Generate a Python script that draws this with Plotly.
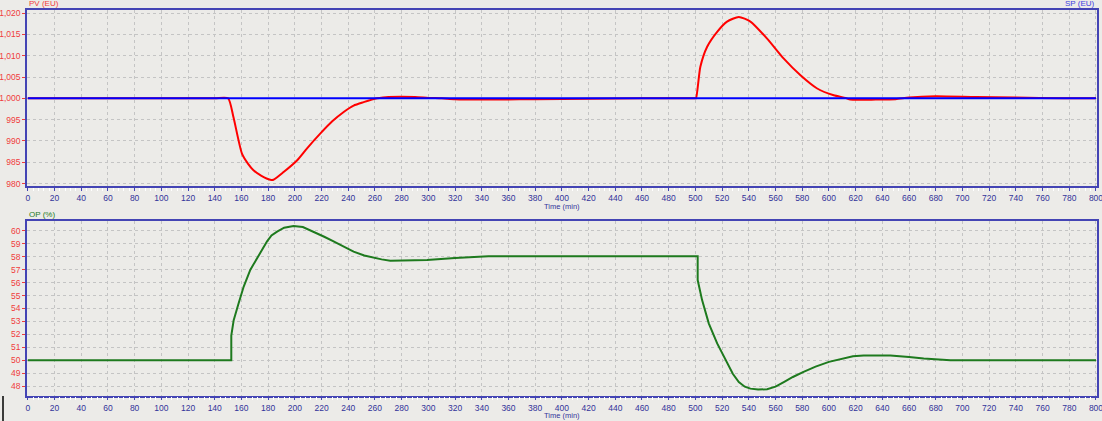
import plotly.graph_objects as go

pv_time = [0, 100, 140, 150, 154, 160.4, 165, 169, 175, 181.6, 184, 191.6, 201.6, 209, 219, 228, 236.6, 244,
           251.5, 261.6, 266, 270, 290, 300, 310, 320, 340, 355, 380, 420, 460,
           490, 500, 500.5, 503.7, 508.8, 516.3, 523.7, 532.5, 541.2, 553.7, 566.2, 578.7, 591.2, 603.6,
           612.4, 616, 635, 650, 660, 680, 710, 740, 776, 790, 800]
pv_values = [1000, 1000, 1000, 1000, 995.6, 987.0, 984.6, 983.1, 981.8, 980.9, 980.9, 982.7, 985.4, 988.2,
             991.7, 994.6, 996.8, 998.3, 999.1,
             1000.0, 1000.2, 1000.3, 1000.3, 1000.1, 1000.0, 999.8, 999.7, 999.7, 999.8, 999.9, 1000,
             1000, 1000, 1000, 1007.4, 1012.1, 1015.6, 1018.0, 1019.1, 1018.0, 1014.0, 1009.3, 1005.4,
             1002.3, 1000.7, 1000.1, 999.7, 999.7, 999.8, 1000.2, 1000.5, 1000.3, 1000.2, 1000.0, 1000.0,
             1000.0]

sp_time = [0, 800]
sp_values = [1000, 1000]

op_time = [0, 152.4, 152.4, 154.2, 157.9, 161.7, 166.7, 172.9, 179.2, 182.5, 186.7, 192, 199, 206, 214,
           222, 229, 237, 244, 252, 259, 265, 271.5, 285, 299, 320, 339, 345, 501.7, 501.7, 505, 510, 516.3,
           523.7, 528, 532.5, 537, 541.2, 547, 553.7, 560, 566.2, 573, 581, 590, 600, 609, 618, 626, 646,
           660, 671, 691, 800]
op_values = [50, 50, 51.9, 53.1, 54.4, 55.7, 57.0, 58.1, 59.2, 59.65, 59.95, 60.25, 60.39, 60.3, 59.95,
             59.55, 59.2, 58.8, 58.4, 58.1, 57.93, 57.8, 57.7, 57.7, 57.75, 57.9, 58.0, 58.05, 58.05, 56.2,
             54.65, 52.85, 51.3, 49.75, 48.95, 48.3, 47.95, 47.8, 47.73, 47.75, 47.95, 48.3, 48.7, 49.1,
             49.5, 49.87, 50.1, 50.3, 50.36, 50.36, 50.25, 50.13, 50.0, 50.0]

pv_ticks = [980, 985, 990, 995, 1000, 1005, 1010, 1015, 1020]
pv_tick_labels = ["980", "985", "990", "995", "1,000", "1,005", "1,010", "1,015", "1,020"]
op_ticks = list(range(48, 61))
time_ticks = list(range(0, 801, 20))

BG = "#ECEBE8"
AXIS_BLUE = "#4444B4"
LABEL_BLUE = "#33339A"
GRID = "#C4C4C4"
RED = "#FF0000"
LABEL_RED = "#F03C3C"
GREEN = "#1E7A1E"
FONT = "Liberation Sans"

X_DOMAIN = [0.0245, 0.9955]
TOP_DOMAIN = [0.558, 0.976]
BOTTOM_DOMAIN = [0.060, 0.476]

fig = go.Figure()

fig.add_trace(go.Scatter(x=pv_time, y=pv_values, mode="lines",
                         line=dict(color=RED, width=2, shape="spline", smoothing=0.6),
                         xaxis="x", yaxis="y", hoverinfo="skip"))
fig.add_trace(go.Scatter(x=sp_time, y=sp_values, mode="lines", line=dict(color="#0000FF", width=2),
                         xaxis="x", yaxis="y", hoverinfo="skip"))
fig.add_trace(go.Scatter(x=op_time, y=op_values, mode="lines", line=dict(color=GREEN, width=2),
                         xaxis="x2", yaxis="y2", hoverinfo="skip"))

common_x = dict(
    range=[-0.6, 800.8], domain=X_DOMAIN, tickvals=time_ticks, ticks="outside", ticklen=3,
    tickcolor=AXIS_BLUE, tickfont=dict(family=FONT, size=8.5, color=LABEL_BLUE), ticklabeloverflow="allow",
    showline=True, linecolor=AXIS_BLUE, linewidth=1.5, mirror=True, automargin=False,
    showgrid=True, gridcolor=GRID, griddash="dot", gridwidth=1, zeroline=False,
    minor=dict(dtick=4, ticks="outside", ticklen=3, tickcolor="#FFFFFF", showgrid=False),
)
common_y = dict(
    ticks="outside", ticklen=3, tickcolor=LABEL_RED, ticklabeloverflow="allow",
    tickfont=dict(family=FONT, size=8.5, color=LABEL_RED),
    showline=True, linecolor=AXIS_BLUE, linewidth=1.5, mirror=True, automargin=False,
    showgrid=True, gridcolor=GRID, griddash="dot", gridwidth=1, zeroline=False,
)

fig.update_layout(
    width=1102, height=421,
    margin=dict(l=0, r=0, t=0, b=0, autoexpand=False),
    paper_bgcolor=BG, plot_bgcolor=BG,
    showlegend=False,
    xaxis=dict(anchor="y", **common_x),
    yaxis=dict(domain=TOP_DOMAIN, range=[979.4, 1020.7], tickvals=pv_ticks, ticktext=pv_tick_labels,
               anchor="x", **common_y),
    xaxis2=dict(anchor="y2", **common_x),
    yaxis2=dict(domain=BOTTOM_DOMAIN, range=[47.25, 60.8], tickvals=op_ticks, anchor="x2", **common_y),
)

label_font = dict(family=FONT, size=8)
fig.add_annotation(text="PV (EU)", x=X_DOMAIN[0], y=TOP_DOMAIN[1], xref="paper", yref="paper",
                   xanchor="left", yanchor="bottom", showarrow=False, font=dict(color=LABEL_RED, **label_font))
fig.add_annotation(text="SP (EU)", x=X_DOMAIN[1], y=TOP_DOMAIN[1], xref="paper", yref="paper",
                   xanchor="right", yanchor="bottom", showarrow=False, font=dict(color="#4040E0", **label_font))
fig.add_annotation(text="OP (%)", x=X_DOMAIN[0], y=BOTTOM_DOMAIN[1], xref="paper", yref="paper",
                   xanchor="left", yanchor="bottom", showarrow=False, font=dict(color=GREEN, **label_font))
for y_pos in [1 - 206 / 421, 1 - 415.5 / 421]:
    fig.add_annotation(text="Time (min)", x=sum(X_DOMAIN) / 2, y=y_pos, xref="paper", yref="paper",
                       xanchor="center", yanchor="middle", showarrow=False,
                       font=dict(family=FONT, size=7.5, color=LABEL_BLUE))

# stray black mark at the bottom-left corner of the display
fig.add_shape(type="line", x0=3 / 1102, x1=3 / 1102, y0=0, y1=1 - 396 / 421, xref="paper", yref="paper",
              line=dict(color="#000000", width=1.5))

# drop the page's default body margin so the figure fills the window
fig.write_html("out.html", config={"displayModeBar": False},
               post_script="document.body.style.margin = '0';")
